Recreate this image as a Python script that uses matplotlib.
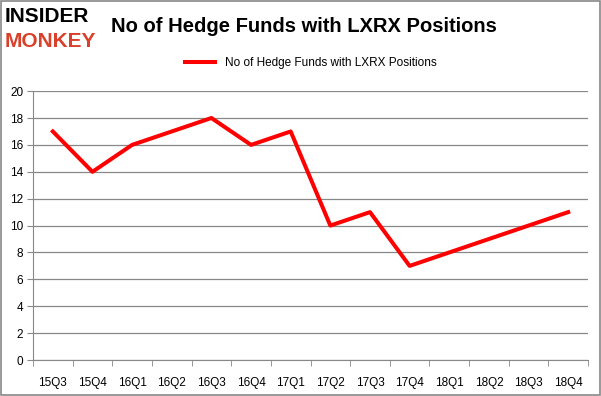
import matplotlib
matplotlib.use("Agg")
import matplotlib.pyplot as plt
from matplotlib.patches import Rectangle

quarters = ['15Q3', '15Q4', '16Q1', '16Q2', '16Q3', '16Q4', '17Q1',
            '17Q2', '17Q3', '17Q4', '18Q1', '18Q2', '18Q3', '18Q4']
hedge_funds = [17, 14, 16, 17, 18, 16, 17, 10, 11, 7, 8, 9, 10, 11]

plt.rcParams['font.family'] = ['Liberation Sans', 'DejaVu Sans']

fig = plt.figure(figsize=(6.01, 3.96), dpi=100)
ax = fig.add_axes([0.0549, 0.0909, 0.9235, 0.679])

x = list(range(len(quarters)))
ax.plot(x, hedge_funds, color='#ff0000', linewidth=2.9,
        label='No of Hedge Funds with LXRX Positions')

ax.set_xlim(-0.5, len(quarters) - 0.5)
ax.set_ylim(0, 20)
ax.set_yticks(range(0, 21, 2))
ax.set_xticks(x)
ax.set_xticklabels(quarters)
ax.set_xticks([i - 0.5 for i in range(len(quarters) + 1)], minor=True)
ax.tick_params(axis='x', which='major', length=0, pad=12, labelsize=8.5)
ax.tick_params(axis='x', which='minor', length=4, color='#888888')
ax.tick_params(axis='y', length=4, color='#888888', labelsize=8.5, pad=3)

ax.grid(axis='y', color='#888888', linewidth=0.9)
ax.set_axisbelow(True)
for s in ['top', 'right']:
    ax.spines[s].set_visible(False)
ax.spines['left'].set_color('#888888')
ax.spines['bottom'].set_color('#888888')

fig.text(0.505, 0.932, 'No of Hedge Funds with LXRX Positions', ha='center',
         va='center', fontsize=14.5, fontweight='bold')
ax.legend(loc='center', bbox_to_anchor=(0.5, 1.105), frameon=False,
          fontsize=8.5, handlelength=2.6)

# logo
fig.text(0.008, 0.958, 'INSIDER', fontsize=15, fontweight='heavy',
         color='black', va='center', ha='left')
fig.text(0.008, 0.895, 'MONKEY', fontsize=15, fontweight='heavy',
         color='#d9412b', va='center', ha='left')

fig.patches.append(Rectangle((0.001, 0.002), 0.997, 0.995, transform=fig.transFigure,
                             fill=False, edgecolor='#888888', linewidth=1.2))

fig.savefig('out.png', dpi=100)
